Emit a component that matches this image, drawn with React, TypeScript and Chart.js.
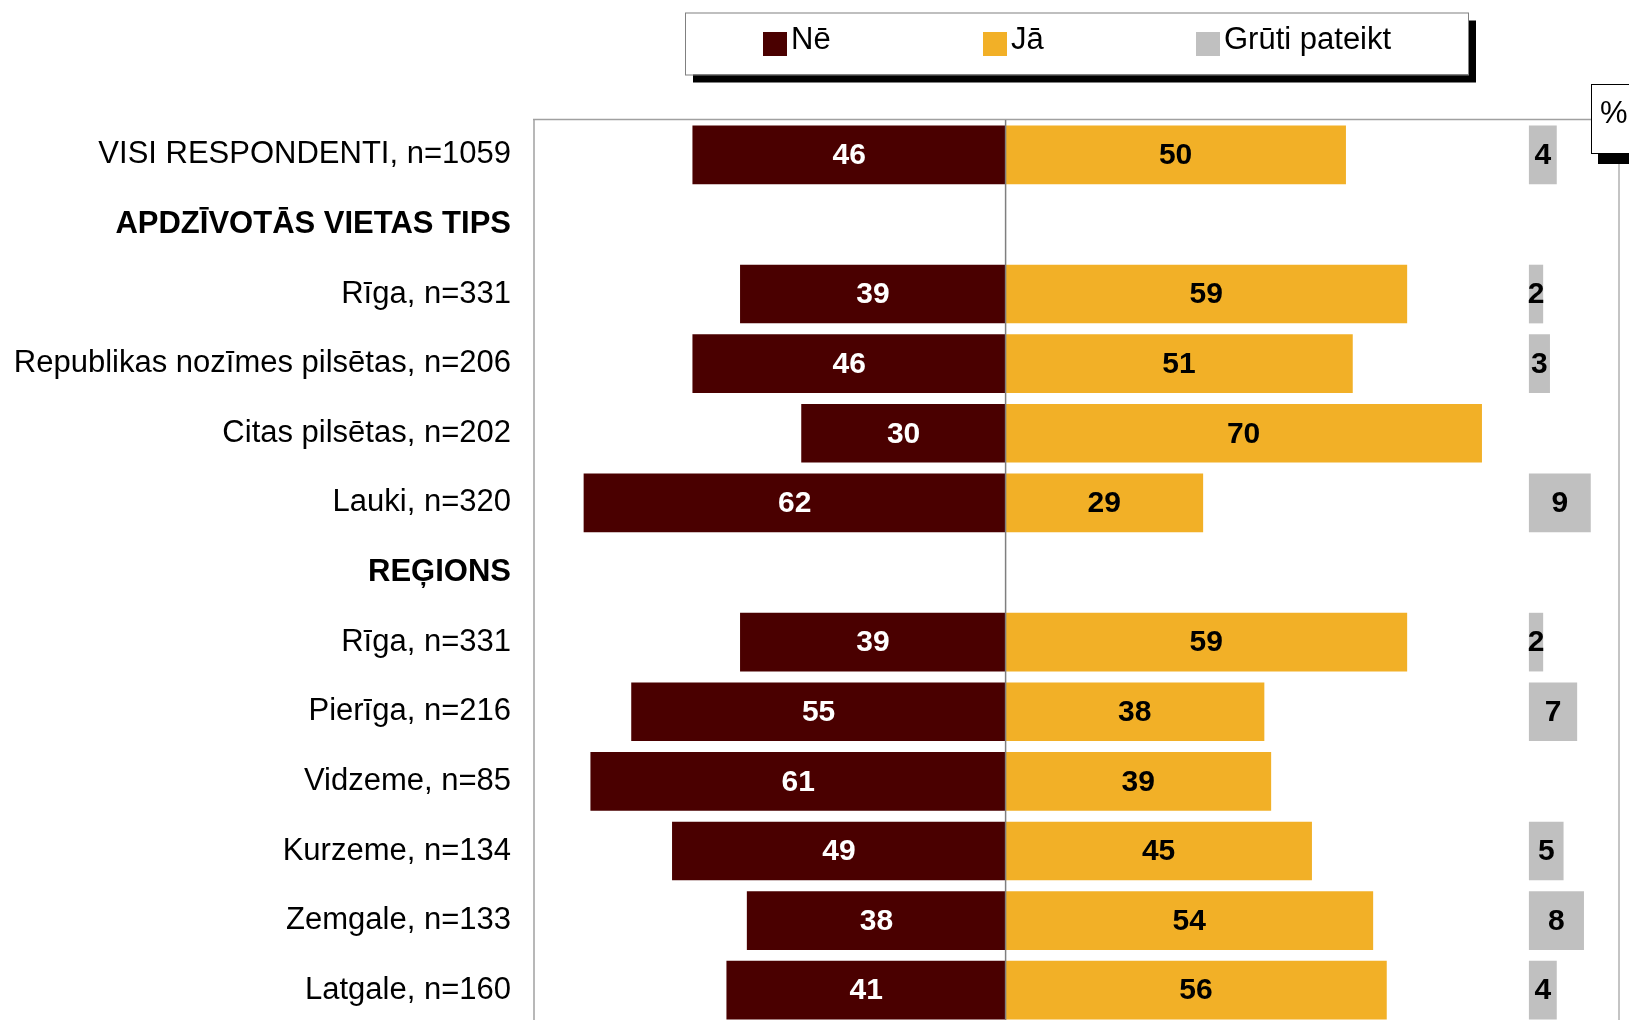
import React, { useEffect, useRef } from "react";
import { Chart, registerables } from "chart.js";

Chart.register(...registerables);

const categories: string[] = [
  "VISI RESPONDENTI, n=1059",
  "APDZĪVOTĀS VIETAS TIPS",
  "Rīga, n=331",
  "Republikas nozīmes pilsētas, n=206",
  "Citas pilsētas, n=202",
  "Lauki, n=320",
  "REĢIONS",
  "Rīga, n=331",
  "Pierīga, n=216",
  "Vidzeme, n=85",
  "Kurzeme, n=134",
  "Zemgale, n=133",
  "Latgale, n=160",
];
const headerRows: number[] = [1, 6];

const seriesNames: string[] = ["Nē", "Jā", "Grūti pateikt"];
const neValues: (number | null)[] = [46, null, 39, 46, 30, 62, null, 39, 55, 61, 49, 38, 41];
const jaValues: (number | null)[] = [50, null, 59, 51, 70, 29, null, 59, 38, 39, 45, 54, 56];
const grutiValues: (number | null)[] = [4, null, 2, 3, null, 9, null, 2, 7, null, 5, 8, 4];
const grutiOffset = 77;

const colors = ["#4A0000", "#F2B027", "#C0C0C0"];
const FONT = "'Liberation Sans', Arial, sans-serif";

export default function App() {
  const ref = useRef<HTMLCanvasElement | null>(null);

  useEffect(() => {
    if (!ref.current) return;
    const rawData = [neValues, jaValues, grutiValues];

    const decorPlugin = {
      id: "decor",
      beforeDatasetsDraw(chart: any) {
        const { ctx, chartArea } = chart;
        ctx.save();
        ctx.strokeStyle = "#B8B8B8";
        ctx.lineWidth = 2;
        ctx.beginPath();
        ctx.moveTo(chartArea.left - 1, chartArea.top);
        ctx.lineTo(chartArea.left - 1, chartArea.bottom);
        ctx.stroke();
        ctx.strokeStyle = "#A0A0A0";
        ctx.lineWidth = 1.5;
        ctx.beginPath();
        ctx.moveTo(chartArea.left - 2, chartArea.top - 0.5);
        ctx.lineTo(chartArea.right, chartArea.top - 0.5);
        ctx.stroke();
        ctx.strokeStyle = "#C4C4C4";
        ctx.lineWidth = 2;
        ctx.beginPath();
        ctx.moveTo(chartArea.right, chartArea.top);
        ctx.lineTo(chartArea.right, chartArea.bottom);
        ctx.stroke();
        ctx.restore();
      },
      afterDatasetsDraw(chart: any) {
        const { ctx, chartArea } = chart;
        const xs = chart.scales.x;
        ctx.save();
        const x0 = xs.getPixelForValue(0);
        ctx.strokeStyle = "#7F7F7F";
        ctx.lineWidth = 1.5;
        ctx.beginPath();
        ctx.moveTo(x0, chartArea.top);
        ctx.lineTo(x0, chartArea.bottom);
        ctx.stroke();

        ctx.font = `bold 30px ${FONT}`;
        ctx.textAlign = "center";
        ctx.textBaseline = "middle";
        chart.data.datasets.forEach((_ds: any, i: number) => {
          const meta = chart.getDatasetMeta(i);
          meta.data.forEach((bar: any, j: number) => {
            const v = rawData[i][j];
            if (v === null || v === undefined || v === 0) return;
            const p = bar.getProps(["x", "y", "base"], true);
            ctx.fillStyle = i === 0 ? "#FFFFFF" : "#000000";
            ctx.fillText(String(v), (p.x + p.base) / 2, p.y + 1);
          });
        });

        // legend
        const lx = 685, ly = 12.5, lw = 783, lh = 62;
        ctx.fillStyle = "#000";
        ctx.fillRect(lx + 8, ly + 8, lw, lh);
        ctx.fillStyle = "#fff";
        ctx.fillRect(lx, ly, lw, lh);
        ctx.strokeStyle = "#808080";
        ctx.lineWidth = 1;
        ctx.strokeRect(lx + 0.5, ly + 0.5, lw, lh);
        const sqX = [763, 983, 1196];
        ctx.textAlign = "left";
        ctx.textBaseline = "alphabetic";
        ctx.font = `31px ${FONT}`;
        seriesNames.forEach((name, i) => {
          ctx.fillStyle = colors[i];
          ctx.fillRect(sqX[i], 32, 24, 24);
          ctx.fillStyle = "#000";
          ctx.fillText(name, sqX[i] + 28, 49);
        });

        // % box
        ctx.fillStyle = "#000";
        ctx.fillRect(1598, 154, 40, 10);
        ctx.fillStyle = "#fff";
        ctx.fillRect(1591.5, 84.5, 60, 69);
        ctx.strokeStyle = "#000";
        ctx.lineWidth = 1;
        ctx.strokeRect(1591.5, 84.5, 60, 69);
        ctx.fillStyle = "#000";
        ctx.font = `31px ${FONT}`;
        ctx.textBaseline = "middle";
        ctx.fillText("%", 1600, 114);
        ctx.restore();
      },
    };

    const chart = new Chart(ref.current, {
      type: "bar",
      data: {
        labels: categories,
        datasets: [
          {
            label: seriesNames[0],
            data: neValues.map((v) => (v === null ? null : -v)),
            backgroundColor: colors[0],
            grouped: false,
            barThickness: 58,
          } as any,
          {
            label: seriesNames[1],
            data: jaValues,
            backgroundColor: colors[1],
            grouped: false,
            barThickness: 58,
          } as any,
          {
            label: seriesNames[2],
            data: grutiValues.map((v) => (v === null ? null : [grutiOffset, grutiOffset + v])),
            backgroundColor: colors[2],
            grouped: false,
            barThickness: 58,
          } as any,
        ],
      },
      options: {
        indexAxis: "y",
        animation: false,
        responsive: false,
        maintainAspectRatio: false,
        layout: { padding: { top: 120, bottom: 5, right: 10, left: 0 } },
        scales: {
          x: {
            type: "linear",
            display: false,
            min: -69.2,
            max: 90.2,
          },
          y: {
            type: "category",
            grid: { display: false, drawTicks: false },
            border: { display: false },
            ticks: {
              autoSkip: false,
              padding: 24,
              color: "#000",
              font: (ctx: any) => ({
                family: FONT,
                size: 31,
                weight: headerRows.includes(ctx.index) ? "bold" : "normal",
              }),
            },
            afterFit: (s: any) => {
              s.width = 535;
              s.paddingTop = 0;
              s.paddingBottom = 0;
            },
          } as any,
        },
        plugins: {
          legend: { display: false },
          tooltip: { enabled: false },
        },
      } as any,
      plugins: [decorPlugin],
    });
    return () => chart.destroy();
  }, []);

  return (
    <div
      style={{
        position: "fixed",
        left: 0,
        top: 0,
        width: 1629,
        height: 1020,
        overflow: "hidden",
        background: "#fff",
      }}
    >
      <canvas ref={ref} width={1629} height={1030} style={{ width: 1629, height: 1030, display: "block" }} />
    </div>
  );
}
